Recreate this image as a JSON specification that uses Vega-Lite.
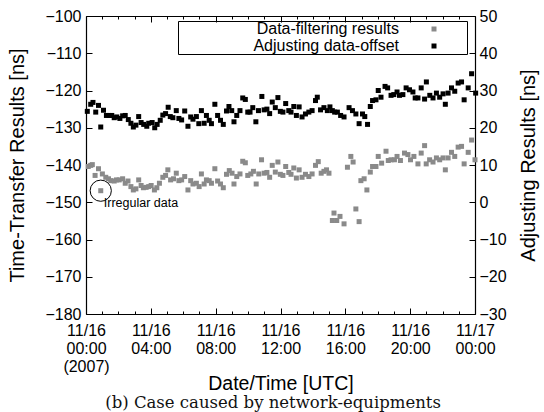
{
  "$schema": "https://vega.github.io/schema/vega-lite/v6.json",
  "autosize": "none",
  "width": 389,
  "height": 298,
  "padding": {"left": 86, "top": 16, "right": 69, "bottom": 98},
  "background": "white",
  "title": {"text": "(b) Case caused by network-equipments", "orient": "bottom", "frame": "bounds", "font": "DejaVu Serif", "fontSize": 16.5, "fontWeight": "normal", "color": "#111", "offset": 2, "anchor": "middle"},
  "config": {
    "view": {"stroke": null},
    "axis": {"labelFont": "Liberation Sans", "titleFont": "Liberation Sans", "labelFontSize": 16, "titleFontSize": 20, "titleFontWeight": "normal", "labelColor": "black", "titleColor": "black", "domainColor": "black", "tickColor": "black", "grid": false, "domainWidth": 1.2, "tickWidth": 1, "labelFlush": false, "labelOverlap": false},
    "legend": {"orient": "none", "legendX": 92, "legendY": 5, "strokeColor": "black", "padding": 0, "labelFont": "Liberation Sans", "labelFontSize": 16, "labelColor": "black", "labelAlign": "right", "labelOffset": -43, "symbolOffset": 248, "rowPadding": 1, "symbolSize": 25, "symbolType": "square", "symbolStrokeWidth": 0, "labelLimit": 400, "titleOrient": "right", "titlePadding": 30, "titleFontSize": 4}
  },
  "datasets": {
    "filtering": [
      {"h":0.14,"v":-140.4},{"h":0.29,"v":-140.1},{"h":0.39,"v":-139.9},{"h":0.56,"v":-142.8},{"h":0.77,"v":-141.0},{"h":0.91,"v":-146.9},{"h":1.01,"v":-142.4},{"h":1.22,"v":-143.3},{"h":1.39,"v":-143.7},{"h":1.53,"v":-144.2},{"h":1.74,"v":-144.3},{"h":1.88,"v":-144.0},{"h":2.05,"v":-144.0},{"h":2.26,"v":-143.7},{"h":2.42,"v":-144.9},{"h":2.59,"v":-144.3},{"h":2.77,"v":-145.8},{"h":2.92,"v":-146.7},{"h":3.08,"v":-146.4},{"h":3.25,"v":-144.0},{"h":3.40,"v":-145.5},{"h":3.54,"v":-146.1},{"h":3.71,"v":-146.0},{"h":3.87,"v":-145.8},{"h":4.02,"v":-145.5},{"h":4.22,"v":-146.7},{"h":4.37,"v":-146.1},{"h":4.53,"v":-144.9},{"h":4.74,"v":-143.3},{"h":4.91,"v":-142.8},{"h":5.05,"v":-141.3},{"h":5.22,"v":-144.0},{"h":5.40,"v":-143.7},{"h":5.57,"v":-142.2},{"h":5.73,"v":-144.2},{"h":5.90,"v":-144.0},{"h":6.09,"v":-143.1},{"h":6.29,"v":-146.7},{"h":6.46,"v":-144.2},{"h":6.60,"v":-145.1},{"h":6.81,"v":-144.9},{"h":6.98,"v":-145.8},{"h":7.12,"v":-142.4},{"h":7.29,"v":-145.1},{"h":7.43,"v":-144.0},{"h":7.60,"v":-144.2},{"h":7.74,"v":-144.9},{"h":7.95,"v":-141.0},{"h":8.12,"v":-144.3},{"h":8.30,"v":-145.1},{"h":8.47,"v":-146.1},{"h":8.67,"v":-142.5},{"h":8.84,"v":-141.5},{"h":9.01,"v":-142.2},{"h":9.13,"v":-145.1},{"h":9.30,"v":-143.1},{"h":9.50,"v":-142.4},{"h":9.67,"v":-139.0},{"h":9.83,"v":-139.4},{"h":9.98,"v":-142.8},{"h":10.17,"v":-142.4},{"h":10.33,"v":-141.7},{"h":10.50,"v":-145.1},{"h":10.66,"v":-142.4},{"h":10.83,"v":-138.6},{"h":10.99,"v":-142.2},{"h":11.16,"v":-142.0},{"h":11.33,"v":-143.3},{"h":11.49,"v":-140.1},{"h":11.68,"v":-141.9},{"h":11.84,"v":-139.2},{"h":11.99,"v":-142.5},{"h":12.15,"v":-142.8},{"h":12.32,"v":-140.4},{"h":12.51,"v":-142.0},{"h":12.65,"v":-142.5},{"h":12.82,"v":-140.8},{"h":12.98,"v":-143.5},{"h":13.15,"v":-141.3},{"h":13.33,"v":-143.3},{"h":13.54,"v":-142.5},{"h":13.75,"v":-143.1},{"h":13.95,"v":-142.4},{"h":14.16,"v":-140.1},{"h":14.33,"v":-139.1},{"h":14.51,"v":-142.2},{"h":14.68,"v":-141.7},{"h":14.84,"v":-141.3},{"h":14.99,"v":-142.2},{"h":15.20,"v":-154.9},{"h":15.30,"v":-152.9},{"h":15.47,"v":-154.9},{"h":15.67,"v":-153.8},{"h":15.92,"v":-155.8},{"h":16.13,"v":-140.6},{"h":16.34,"v":-137.7},{"h":16.48,"v":-139.2},{"h":16.65,"v":-151.8},{"h":16.85,"v":-155.2},{"h":16.96,"v":-144.2},{"h":17.16,"v":-143.7},{"h":17.33,"v":-146.7},{"h":17.54,"v":-141.9},{"h":17.68,"v":-140.4},{"h":17.89,"v":-140.4},{"h":18.03,"v":-137.7},{"h":18.24,"v":-139.5},{"h":18.51,"v":-136.3},{"h":18.65,"v":-138.8},{"h":18.82,"v":-138.6},{"h":19.03,"v":-138.6},{"h":19.19,"v":-137.7},{"h":19.40,"v":-138.8},{"h":19.65,"v":-136.8},{"h":19.86,"v":-137.2},{"h":20.02,"v":-138.6},{"h":20.23,"v":-137.7},{"h":20.48,"v":-139.7},{"h":20.68,"v":-136.8},{"h":20.89,"v":-134.8},{"h":20.99,"v":-139.7},{"h":21.20,"v":-138.6},{"h":21.41,"v":-139.2},{"h":21.62,"v":-138.1},{"h":21.82,"v":-138.6},{"h":22.03,"v":-138.1},{"h":22.17,"v":-141.3},{"h":22.34,"v":-138.1},{"h":22.55,"v":-136.6},{"h":22.75,"v":-137.7},{"h":22.96,"v":-135.2},{"h":23.17,"v":-135.0},{"h":23.33,"v":-139.7},{"h":23.58,"v":-136.6},{"h":23.79,"v":-133.3},{"h":24.00,"v":-138.6}
    ],
    "adjusting": [
      {"h":0.08,"v":24.4},{"h":0.29,"v":26.3},{"h":0.43,"v":26.8},{"h":0.60,"v":24.2},{"h":0.77,"v":26.0},{"h":0.91,"v":20.2},{"h":1.08,"v":24.7},{"h":1.26,"v":23.3},{"h":1.43,"v":23.3},{"h":1.59,"v":23.3},{"h":1.74,"v":22.7},{"h":1.90,"v":22.9},{"h":2.09,"v":22.5},{"h":2.26,"v":23.2},{"h":2.42,"v":23.3},{"h":2.61,"v":22.2},{"h":2.77,"v":21.2},{"h":2.92,"v":20.2},{"h":3.08,"v":20.7},{"h":3.25,"v":23.0},{"h":3.40,"v":21.4},{"h":3.56,"v":20.9},{"h":3.75,"v":20.4},{"h":3.87,"v":21.2},{"h":4.08,"v":21.4},{"h":4.24,"v":20.0},{"h":4.39,"v":20.9},{"h":4.58,"v":22.0},{"h":4.74,"v":23.4},{"h":4.91,"v":23.8},{"h":5.07,"v":25.5},{"h":5.20,"v":23.0},{"h":5.36,"v":22.7},{"h":5.57,"v":24.6},{"h":5.73,"v":22.5},{"h":5.90,"v":22.1},{"h":6.09,"v":24.5},{"h":6.29,"v":20.4},{"h":6.46,"v":22.9},{"h":6.60,"v":22.3},{"h":6.81,"v":23.0},{"h":6.96,"v":21.1},{"h":7.12,"v":24.6},{"h":7.29,"v":21.2},{"h":7.43,"v":23.3},{"h":7.60,"v":22.0},{"h":7.74,"v":21.1},{"h":7.95,"v":26.3},{"h":8.12,"v":23.3},{"h":8.30,"v":22.0},{"h":8.47,"v":20.9},{"h":8.67,"v":24.5},{"h":8.82,"v":25.7},{"h":8.99,"v":24.6},{"h":9.13,"v":21.6},{"h":9.30,"v":23.3},{"h":9.50,"v":24.6},{"h":9.67,"v":28.0},{"h":9.83,"v":27.6},{"h":9.98,"v":24.2},{"h":10.12,"v":24.2},{"h":10.29,"v":25.4},{"h":10.48,"v":21.6},{"h":10.64,"v":24.6},{"h":10.85,"v":28.4},{"h":10.99,"v":24.8},{"h":11.16,"v":25.0},{"h":11.33,"v":23.8},{"h":11.49,"v":26.9},{"h":11.68,"v":25.4},{"h":11.84,"v":28.1},{"h":11.99,"v":24.4},{"h":12.15,"v":24.2},{"h":12.32,"v":26.5},{"h":12.51,"v":24.6},{"h":12.65,"v":24.2},{"h":12.82,"v":25.7},{"h":12.98,"v":23.3},{"h":13.15,"v":25.6},{"h":13.33,"v":22.9},{"h":13.54,"v":23.7},{"h":13.75,"v":24.2},{"h":13.95,"v":24.6},{"h":14.16,"v":27.3},{"h":14.27,"v":28.2},{"h":14.47,"v":24.8},{"h":14.68,"v":25.4},{"h":14.89,"v":24.6},{"h":15.05,"v":25.6},{"h":15.20,"v":24.6},{"h":15.34,"v":24.2},{"h":15.51,"v":24.2},{"h":15.71,"v":23.3},{"h":15.92,"v":22.9},{"h":16.23,"v":25.4},{"h":16.44,"v":24.6},{"h":16.65,"v":23.7},{"h":16.85,"v":21.1},{"h":17.06,"v":23.7},{"h":17.20,"v":23.0},{"h":17.37,"v":20.9},{"h":17.54,"v":25.7},{"h":17.68,"v":27.3},{"h":17.89,"v":27.5},{"h":18.03,"v":30.0},{"h":18.20,"v":28.2},{"h":18.45,"v":31.1},{"h":18.61,"v":30.7},{"h":18.82,"v":28.7},{"h":18.99,"v":28.9},{"h":19.19,"v":29.6},{"h":19.34,"v":28.7},{"h":19.55,"v":28.9},{"h":19.75,"v":30.7},{"h":19.96,"v":30.2},{"h":20.17,"v":29.6},{"h":20.31,"v":28.0},{"h":20.48,"v":28.0},{"h":20.68,"v":30.7},{"h":20.89,"v":27.7},{"h":21.00,"v":32.3},{"h":21.21,"v":28.7},{"h":21.41,"v":28.0},{"h":21.62,"v":29.3},{"h":21.82,"v":28.2},{"h":22.03,"v":29.1},{"h":22.17,"v":26.3},{"h":22.34,"v":29.3},{"h":22.55,"v":30.7},{"h":22.75,"v":29.8},{"h":22.96,"v":32.0},{"h":23.17,"v":32.3},{"h":23.33,"v":27.5},{"h":23.58,"v":30.7},{"h":23.79,"v":34.5},{"h":24.04,"v":29.3}
    ],
    "note": [{"h": 0.91, "v": -146.9, "label": "Irregular data"}]
  },
  "resolve": {"scale": {"y": "independent"}, "axis": {"x": "independent"}},
  "layer": [
    {
      "data": {"name": "filtering"},
      "mark": {"type": "square", "size": 25, "opacity": 1},
      "encoding": {
        "x": {"field": "h", "type": "quantitative", "scale": {"domain": [0, 24], "nice": false, "zero": false},
              "axis": {"orient": "bottom", "values": [0, 4, 8, 12, 16, 20, 24], "tickSize": -6, "labelPadding": 14, "labelLineHeight": 18, "labelBaseline": "top", "title": "Date/Time [UTC]", "titlePadding": 0, "titleFontSize": 19.5,
                       "labelExpr": "datum.value == 0 ? ['11/16', '00:00', '(2007)'] : datum.value == 24 ? ['11/17', '00:00'] : ['11/16', (datum.value < 10 ? '0' : '') + datum.value + ':00']"}},
        "y": {"field": "v", "type": "quantitative", "scale": {"domain": [-180, -100], "nice": false, "zero": false},
              "axis": {"orient": "left", "values": [-180, -170, -160, -150, -140, -130, -120, -110, -100], "tickSize": -6, "labelPadding": 11, "title": "Time-Transfer Results [ns]", "titlePadding": 17}},
        "color": {"datum": "Data-filtering results", "type": "nominal",
                  "scale": {"domain": ["Data-filtering results", "Adjusting data-offset"], "range": ["#8a8a8a", "#000000"]},
                  "legend": {"title": " "}}
      }
    },
    {
      "data": {"name": "adjusting"},
      "mark": {"type": "square", "size": 25, "opacity": 1},
      "encoding": {
        "x": {"field": "h", "type": "quantitative", "scale": {"domain": [0, 24], "nice": false, "zero": false},
              "axis": {"orient": "top", "values": [0, 4, 8, 12, 16, 20, 24], "tickSize": -6, "labels": false, "title": null}},
        "y": {"field": "v", "type": "quantitative", "scale": {"domain": [-30, 50], "nice": false, "zero": false},
              "axis": {"orient": "right", "values": [-30, -20, -10, 0, 10, 20, 30, 40, 50], "tickSize": -6, "labelPadding": 10, "title": "Adjusting Results [ns]", "titleAngle": 270, "titlePadding": 32}},
        "color": {"datum": "Adjusting data-offset", "type": "nominal"}
      }
    },
    {
      "data": {"name": "note"},
      "mark": {"type": "point", "shape": "circle", "size": 450, "filled": false, "stroke": "black", "strokeWidth": 1, "opacity": 1},
      "encoding": {
        "x": {"field": "h", "type": "quantitative", "scale": {"domain": [0, 24], "nice": false, "zero": false},
              "axis": {"orient": "bottom", "values": [1,2,3,5,6,7,9,10,11,13,14,15,17,18,19,21,22,23], "tickSize": -3, "labels": false, "domain": false, "title": null}},
        "y": {"field": "v", "type": "quantitative", "scale": {"domain": [-180, -100], "nice": false, "zero": false}, "axis": null}
      }
    },
    {
      "data": {"name": "note"},
      "mark": {"type": "text", "align": "left", "baseline": "middle", "dx": 3, "dy": 12, "font": "Liberation Sans", "fontSize": 12.5, "color": "black"},
      "encoding": {
        "x": {"field": "h", "type": "quantitative", "scale": {"domain": [0, 24], "nice": false, "zero": false},
              "axis": {"orient": "top", "values": [1,2,3,5,6,7,9,10,11,13,14,15,17,18,19,21,22,23], "tickSize": -3, "labels": false, "domain": false, "title": null}},
        "y": {"field": "v", "type": "quantitative", "scale": {"domain": [-180, -100], "nice": false, "zero": false}, "axis": null},
        "text": {"field": "label"}
      }
    }
  ]
}
